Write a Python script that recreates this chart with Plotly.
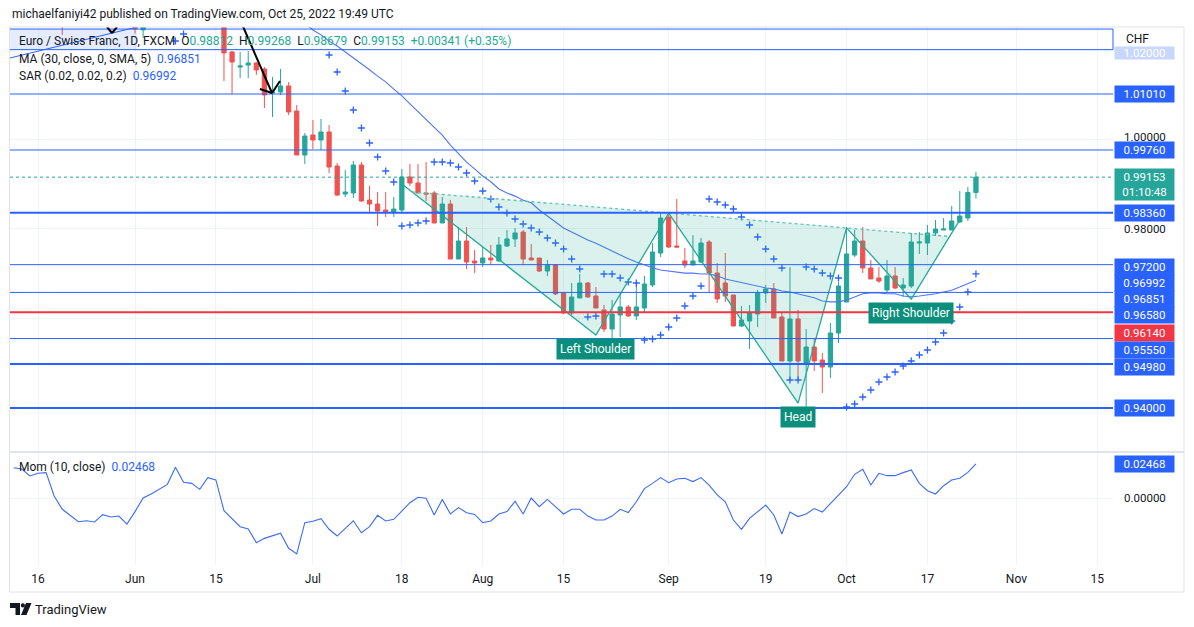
import numpy as np
import pandas as pd
import plotly.graph_objects as go
from plotly.subplots import make_subplots

# ---------------- data (EUR/CHF daily, FXCM) ----------------
start_date = "2022-05-11"
opens = [1.0445, 1.0430, 1.0399, 1.0411, 1.0443, 1.0468, 1.0339, 1.0285, 1.0291, 1.0309,
         1.0296, 1.0256, 1.0278, 1.0273, 1.0312, 1.0279, 1.0244, 1.0285, 1.0320, 1.0372,
         1.0395, 1.0479, 1.0392, 1.0379, 1.0375, 1.0426,
         1.0371, 1.01948, 1.01613, 1.01657, 1.01702, 1.01568, 1.01032, 1.01055, 1.01189, 1.0063,
         0.99648, 1.00095, 0.99983, 1.00162, 0.99402, 0.98777, 0.988, 0.99425, 0.98643, 0.98554,
         0.9842, 0.98375, 0.9842, 0.99157, 0.99023, 0.988, 0.988, 0.9813, 0.98554, 0.97326,
         0.97728, 0.97282, 0.97237, 0.97349, 0.97282, 0.97616, 0.97773, 0.97929, 0.97349, 0.97349,
         0.97058, 0.97192, 0.96567, 0.96121, 0.96455, 0.9679, 0.965, 0.96188, 0.95763, 0.96076,
         0.96255, 0.96054, 0.96232, 0.96746, 0.9746, 0.98264, 0.97616, 0.97282, 0.97192, 0.97259,
         0.97706, 0.97014, 0.9679, 0.96522, 0.9583, 0.95942, 0.96098, 0.96567, 0.96656, 0.96031,
         0.95049, 0.95987, 0.94982, 0.95361, 0.95071, 0.94915, 0.95674, 0.96366, 0.97415, 0.97728,
         0.97125, 0.96902, 0.96634, 0.96947, 0.96679, 0.96723, 0.97683, 0.97683, 0.97907, 0.97974,
         0.97974, 0.98152, 0.98241, 0.98812]
highs = [1.0462, 1.0441, 1.0420, 1.0452, 1.0478, 1.0475, 1.0348, 1.0310, 1.0318, 1.0322,
         1.0302, 1.0290, 1.0292, 1.0320, 1.0318, 1.0288, 1.0292, 1.0330, 1.0380, 1.0405,
         1.0495, 1.0490, 1.0410, 1.0398, 1.0435, 1.0440,
         1.0390, 1.0197, 1.01948, 1.0197, 1.01724, 1.01613, 1.0139, 1.01568, 1.01278, 1.00764,
         1.00139, 1.00429, 1.00452, 1.00318, 0.99469, 0.99313, 0.99514, 0.99492, 0.98956, 0.98822,
         0.98822, 0.9871, 0.99336, 0.99447, 0.99447, 0.99492, 0.98844, 0.9871, 0.98643, 0.98041,
         0.98041, 0.97527, 0.97594, 0.97639, 0.97817, 0.97974, 0.98018, 0.97974, 0.97661, 0.97349,
         0.97304, 0.97215, 0.96567, 0.9679, 0.96991, 0.96813, 0.96701, 0.96299, 0.96411, 0.96567,
         0.96299, 0.9679, 0.96947, 0.97683, 0.98353, 0.98309, 0.98666, 0.97572, 0.97862, 0.97795,
         0.9775, 0.97237, 0.9746, 0.96522, 0.96277, 0.96299, 0.96634, 0.96746, 0.9679, 0.96121,
         0.97148, 0.96188, 0.95763, 0.95562, 0.95228, 0.95897, 0.96813, 0.98041, 0.97974, 0.98041,
         0.97304, 0.97148, 0.97304, 0.97148, 0.96902, 0.97907, 0.97929, 0.98085, 0.98197, 0.98241,
         0.98509, 0.98844, 0.98934, 0.99268]
lows = [1.0418, 1.0388, 1.0390, 1.0405, 1.0436, 1.0330, 1.0233, 1.0262, 1.0280, 1.0285,
        1.0254, 1.0252, 1.0262, 1.0268, 1.0270, 1.0236, 1.0226, 1.0278, 1.0312, 1.0360,
        1.0390, 1.0380, 1.0360, 1.0350, 1.0368, 1.0360,
        1.0130, 1.0101, 1.01367, 1.01367, 1.01434, 1.00697, 1.00496, 1.00988, 1.00541, 0.99648,
        0.99447, 0.99782, 0.9976, 0.99246, 0.98733, 0.9871, 0.98688, 0.98599, 0.98353, 0.98063,
        0.98264, 0.98264, 0.98353, 0.98956, 0.988, 0.98621, 0.9813, 0.9813, 0.97326, 0.97326,
        0.97103, 0.97014, 0.97148, 0.97192, 0.97259, 0.97594, 0.97594, 0.97192, 0.97304, 0.97036,
        0.96947, 0.96522, 0.96098, 0.96076, 0.96455, 0.96455, 0.96232, 0.95696, 0.9554, 0.95585,
        0.96031, 0.95964, 0.96121, 0.96701, 0.97371, 0.97572, 0.97572, 0.97125, 0.97192, 0.97237,
        0.96589, 0.96344, 0.96366, 0.9583, 0.95808, 0.95317, 0.95808, 0.96344, 0.96009, 0.95049,
        0.94625, 0.94625, 0.94022, 0.94826, 0.94335, 0.94669, 0.95451, 0.96366, 0.97371, 0.97014,
        0.9688, 0.9679, 0.96589, 0.96656, 0.96478, 0.96679, 0.97438, 0.97415, 0.9784, 0.97974,
        0.97974, 0.9813, 0.98175, 0.98679]
closes = [1.0430, 1.0399, 1.0411, 1.0443, 1.0468, 1.0339, 1.0285, 1.0291, 1.0309, 1.0296,
          1.0256, 1.0278, 1.0273, 1.0312, 1.0279, 1.0246, 1.0285, 1.0320, 1.0372, 1.0395,
          1.0479, 1.0392, 1.0379, 1.0375, 1.0426, 1.0371,
          1.01925, 1.01724, 1.01635, 1.01702, 1.01546, 1.00988, 1.01055, 1.01189, 1.00608, 0.99648,
          1.00072, 0.99983, 1.00162, 0.9938, 0.98755, 0.98822, 0.99425, 0.98621, 0.98554, 0.98398,
          0.98375, 0.98442, 0.99157, 0.99023, 0.988, 0.98777, 0.9813, 0.98554, 0.97326, 0.97728,
          0.97259, 0.97237, 0.97349, 0.97304, 0.97639, 0.97773, 0.97907, 0.97326, 0.97304, 0.97058,
          0.97192, 0.96545, 0.96121, 0.96478, 0.9679, 0.96478, 0.96232, 0.95763, 0.96098, 0.96255,
          0.96054, 0.96255, 0.96768, 0.97482, 0.98241, 0.97594, 0.97594, 0.97192, 0.97282, 0.97683,
          0.97014, 0.96433, 0.965, 0.9583, 0.95964, 0.96121, 0.96567, 0.96656, 0.96009, 0.95049,
          0.95987, 0.95049, 0.95361, 0.95049, 0.94915, 0.95674, 0.96723, 0.97438, 0.97728, 0.97125,
          0.9688, 0.96835, 0.96947, 0.96679, 0.96746, 0.97706, 0.97706, 0.97907, 0.97996, 0.97996,
          0.98175, 0.98286, 0.98812, 0.99153]
mom10 = [0.0220, 0.0210, 0.0160, 0.0180, 0.0184, 0.0015, -0.0082, -0.0126, -0.0172, -0.0165,
         -0.0174, -0.0121, -0.0138, -0.0131, -0.0189, -0.0099, 0.0000, 0.0029, 0.0063, 0.0099,
         0.0223, 0.0114, 0.0106, 0.0063, 0.0147, 0.0131, -0.0092, -0.0148, -0.0208, -0.0225,
         -0.0324, -0.0293, -0.0273, -0.0256, -0.0365, -0.0406, -0.0179, -0.0169, -0.0150, -0.0227,
         -0.0276, -0.0220, -0.0165, -0.0252, -0.0208, -0.0126, -0.0167, -0.0155, -0.0094, -0.0034,
         0.0005, -0.0002, -0.0123, -0.0010, -0.0116, -0.0070, -0.0107, -0.0119, -0.0179, -0.0167,
         -0.0116, -0.0099, -0.0024, -0.0116, 0.0000, -0.0063, -0.0010, -0.0063, -0.0116, -0.0082,
         -0.0082, -0.0131, -0.0160, -0.0160, -0.0131, -0.0082, -0.0106, -0.0027, 0.0068, 0.0106,
         0.0148, 0.0111, 0.0138, 0.0143, 0.0119, 0.0148, 0.0094, 0.0022, -0.0027, -0.0160,
         -0.0227, -0.0148, -0.0099, -0.0051, -0.0123, -0.0261, -0.0102, -0.0135, -0.0116, -0.0077,
         -0.0102, -0.0039, 0.0022, 0.0082, 0.0172, 0.0208, 0.0094, 0.0179, 0.0162, 0.0162,
         0.0184, 0.0203, 0.0106, 0.0053, 0.0029, 0.0089, 0.0131, 0.0143, 0.0186, 0.02468]
ma30 = [None] * 36 + [
    1.0260, 1.0244, 1.0233, 1.0219, 1.0208, 1.0195, 1.0181, 1.0168, 1.0155, 1.0141,
    1.0128, 1.0112, 1.0097, 1.0079, 1.0061, 1.0043, 1.0025, 1.0009, 0.9987, 0.9967,
    0.9949, 0.9934, 0.9918, 0.9905, 0.9889, 0.9880, 0.9873, 0.9864, 0.9858, 0.9842,
    0.9829, 0.9815, 0.9802, 0.9793, 0.9784, 0.9775, 0.9768, 0.9759, 0.9750, 0.9741,
    0.9733, 0.9726, 0.9719, 0.9713, 0.9708, 0.9706, 0.9704, 0.9701, 0.9701, 0.9699,
    0.9699, 0.9695, 0.9688, 0.9684, 0.9679, 0.9675, 0.9672, 0.9668, 0.9666, 0.9661,
    0.9659, 0.9655, 0.9650, 0.9646, 0.9639, 0.9637, 0.9637, 0.9641, 0.9648, 0.9655,
    0.9657, 0.9657, 0.9655, 0.9655, 0.9650, 0.9648, 0.9650, 0.9652, 0.9655, 0.9659,
    0.9663, 0.9670, 0.9677, 0.96851]
sar = [None] * 20 + [1.02193, 1.02350] + [None] * 17 + [
    1.01881, 1.01501, 1.01077, 1.00653, 1.00251, 0.99916, 0.99603, 0.99291, 0.99045, 0.98063,
    0.98085, 0.98130, 0.98175, 0.99492, 0.99492, 0.99469, 0.99380, 0.99246, 0.99068, 0.98844,
    0.98666, 0.98487, 0.98353, 0.98219, 0.98108, 0.98018, 0.97929, 0.97795, 0.97683, 0.97549,
    0.97326, 0.97103, 0.96031, 0.96054, 0.96991, 0.96991, 0.96902, 0.96813, 0.96790, 0.95518,
    0.95540, 0.95629, 0.95808, 0.96009, 0.96277, 0.96500, 0.96723, 0.98666, 0.98599, 0.98532,
    0.98442, 0.98264, 0.98085, 0.97817, 0.97549, 0.97326, 0.97125, 0.94625, 0.94625, 0.97148,
    0.97103, 0.97014, 0.96947, 0.96902, 0.94022, 0.94089, 0.94245, 0.94401, 0.94580, 0.94692,
    0.94803, 0.94937, 0.95049, 0.95183, 0.95295, 0.95473, 0.95674, 0.95942, 0.96255, 0.96589,
    0.96992]

blue_levels = [1.0246, 1.0200, 1.0101, 0.9976, 0.9836, 0.9720, 0.9658, 0.9555, 0.9498, 0.9400]
blue_level_widths = [1, 1, 1, 1, 2, 1, 1, 1, 2, 2]
red_level = 0.9614

tick_dates = ["2022-05-16", "2022-06-01", "2022-06-15", "2022-07-01", "2022-07-18", "2022-08-01",
              "2022-08-15", "2022-09-01", "2022-09-19", "2022-10-03", "2022-10-17", "2022-11-01",
              "2022-11-15"]
tick_text = ["16", "Jun", "15", "Jul", "18", "Aug", "15", "Sep", "19", "Oct", "17", "Nov", "15"]

# inverse head & shoulders drawing: start, L-shoulder, neck, head, neck, R-shoulder, end
hs_dates = ["2022-07-18", "2022-08-19", "2022-09-01", "2022-09-23", "2022-10-03", "2022-10-13", "2022-10-21"]
hs_prices = [0.9900, 0.9563, 0.9835, 0.9411, 0.9802, 0.9643, 0.9820]
hs_labels = ["Left Shoulder", "Head", "Right Shoulder"]

# other drawings (bar position, price)
trend_pts = [(-0.46, 1.01814), (15.24, 1.02506)]
box_range = (-0.46, 15.24, 1.0200, 1.0246)
arrow_shaft = [(28.2, 1.0258), (31.94, 1.01032)]
arrow_head = [(30.45, 1.01121), (31.94, 1.01032), (32.93, 1.01300)]
arrow_tip2 = [(11.53, 1.02506), (12.15, 1.02372), (12.77, 1.02506)]

# ---------------- layout constants (page pixels; page body has an 8px margin) ----------------
OFF = 8
PAGE_W, PAGE_H = 1194, 627
W, H = PAGE_W - OFF, PAGE_H - OFF
PX_L, PX_R, PX_T, PX_B = 10, 1113, 27, 565     # plot area in page pixels
L, R, T, B = PX_L - OFF, W - (PX_R - OFF), PX_T - OFF, H - (PX_B - OFF)
pw, ph = PX_R - PX_L, PX_B - PX_T
split = (PX_B - 452) / ph

BLUE = "#2962ff"
TEAL = "#22ab94"
RED = "#f23645"
TXT = "#131722"
FONT = "Roboto, 'Noto Sans', sans-serif"


def px2x(px):
    return (px - PX_L) / pw


def px2y(py):
    return (PX_B - py) / ph


cal = pd.bdate_range(start_date, "2022-11-30")


def pos(d):
    return cal.get_loc(pd.Timestamp(d))


n = len(closes)
xb = np.arange(n)

fig = make_subplots(rows=2, cols=1, shared_xaxes=True, vertical_spacing=0,
                    row_heights=[1 - split, split])

fig.add_trace(go.Candlestick(
    x=xb, open=opens, high=highs, low=lows, close=closes,
    increasing=dict(line=dict(color="#26a69a", width=1), fillcolor="#26a69a"),
    decreasing=dict(line=dict(color="#ef5350", width=1), fillcolor="#ef5350"),
    whiskerwidth=0, hoverinfo="skip"), row=1, col=1)

fig.add_trace(go.Scatter(x=xb, y=ma30, mode="lines", line=dict(color="#4f74f7", width=1.1),
                         hoverinfo="skip"), row=1, col=1)
fig.add_trace(go.Scatter(x=xb, y=sar, mode="markers",
                         marker=dict(symbol="cross-thin", size=5, line=dict(color=BLUE, width=1.3)),
                         hoverinfo="skip"), row=1, col=1)

# head & shoulders
hx = [pos(d) for d in hs_dates]
hy = hs_prices
m = (hy[4] - hy[2]) / (hx[4] - hx[2])


def neck(xv):
    return hy[2] + m * (xv - hx[2])


def cross_neck(i, j):
    s = (hy[j] - hy[i]) / (hx[j] - hx[i])
    xv = (hy[i] - s * hx[i] - hy[2] + m * hx[2]) / (m - s)
    return xv, neck(xv)


lx, ly = cross_neck(0, 1)
rx, ry = cross_neck(5, 6)
tris = [([lx, hx[1], hx[2], lx], [ly, hy[1], hy[2], ly]),
        ([hx[2], hx[3], hx[4], hx[2]], [hy[2], hy[3], hy[4], hy[2]]),
        ([hx[4], hx[5], rx, hx[4]], [hy[4], hy[5], ry, hy[4]])]
for tx, ty in tris:
    fig.add_trace(go.Scatter(x=tx, y=ty, mode="lines", fill="toself",
                             fillcolor="rgba(34,171,148,0.17)", line=dict(width=0),
                             hoverinfo="skip"), row=1, col=1)
fig.add_trace(go.Scatter(x=hx, y=hy, mode="lines", line=dict(color=TEAL, width=1.3),
                         hoverinfo="skip"), row=1, col=1)
fig.add_trace(go.Scatter(x=[lx, rx], y=[ly, ry], mode="lines",
                         line=dict(color="#5cc4b2", width=1.3, dash="dot"), hoverinfo="skip"), row=1, col=1)

# momentum
fig.add_trace(go.Scatter(x=xb, y=mom10, mode="lines", line=dict(color="#3b6cf8", width=1.1),
                         hoverinfo="skip"), row=2, col=1)

shapes = []
shapes.append(dict(type="rect", xref="x", yref="y", x0=box_range[0], x1=box_range[1],
                   y0=box_range[2], y1=box_range[3], fillcolor="rgba(41,98,255,0.12)",
                   line=dict(width=0), layer="above"))
for lev, wd in zip(blue_levels, blue_level_widths):
    shapes.append(dict(type="line", xref="paper", yref="y", x0=0, x1=1, y0=lev, y1=lev,
                       line=dict(color=BLUE, width=wd), layer="above"))
shapes.append(dict(type="line", xref="paper", yref="y", x0=1, x1=1, y0=blue_levels[1],
                   y1=blue_levels[0], line=dict(color=BLUE, width=1), layer="above"))
shapes.append(dict(type="line", xref="paper", yref="y", x0=0, x1=1, y0=red_level, y1=red_level,
                   line=dict(color=RED, width=2), layer="above"))
shapes.append(dict(type="line", xref="paper", yref="y", x0=0, x1=1, y0=closes[-1], y1=closes[-1],
                   line=dict(color="#26a69a", width=1, dash="dot"), layer="above"))
shapes.append(dict(type="line", xref="x", yref="y", x0=trend_pts[0][0], y0=trend_pts[0][1],
                   x1=trend_pts[1][0], y1=trend_pts[1][1], line=dict(color=BLUE, width=1)))
for pts in (arrow_shaft, arrow_head, arrow_tip2):
    for (a, b), (c, d) in zip(pts[:-1], pts[1:]):
        shapes.append(dict(type="line", xref="x", yref="y", x0=a, y0=b, x1=c, y1=d,
                           line=dict(color="#000000", width=2), layer="above"))

# frame
shapes.append(dict(type="rect", xref="paper", yref="paper", x0=px2x(9.5), x1=px2x(1184),
                   y0=px2y(592), y1=px2y(27), line=dict(color="#e0e3eb", width=1)))
shapes.append(dict(type="line", xref="paper", yref="paper", x0=px2x(9.5), x1=px2x(1184),
                   y0=split, y1=split, line=dict(color="#e0e3eb", width=2)))


def P(px, py):
    return f"{px2x(px):.5f},{px2y(py):.5f}"


shapes.append(dict(type="path", xref="paper", yref="paper",
                   path=f"M {P(10,603)} L {P(20,603)} L {P(20,615)} L {P(15.5,615)} L {P(15.5,608)} L {P(10,608)} Z",
                   fillcolor="#131722", line=dict(width=0)))
shapes.append(dict(type="circle", xref="paper", yref="paper", x0=px2x(20.8), x1=px2x(25),
                   y0=px2y(607.5), y1=px2y(603.3), fillcolor="#131722", line=dict(width=0)))
shapes.append(dict(type="path", xref="paper", yref="paper",
                   path=f"M {P(26,603)} L {P(31.5,603)} L {P(26.5,615)} L {P(21,615)} Z",
                   fillcolor="#131722", line=dict(width=0)))

ann = []
ann.append(dict(xref="paper", yref="paper", x=px2x(10), y=px2y(14), xanchor="left", yanchor="middle",
                text="michaelfaniyi42 published on TradingView.com, Oct 25, 2022 19:49 UTC",
                showarrow=False, font=dict(size=12, color=TXT)))
chg = closes[-1] - closes[-2]
pct = chg / closes[-2] * 100


def tv(v):
    return f'<span style="color:{TEAL}">{v}</span>'


line1 = ("Euro / Swiss Franc, 1D, FXCM  O" + tv(f"{opens[-1]:.5f}") + "  H" + tv(f"{highs[-1]:.5f}") +
         "  L" + tv(f"{lows[-1]:.5f}") + "  C" + tv(f"{closes[-1]:.5f}") + "  " +
         tv(f"{chg:+.5f} ({pct:+.2f}%)"))
ann.append(dict(xref="paper", yref="paper", x=px2x(17), y=px2y(41), xanchor="left", yanchor="middle",
                text=line1, showarrow=False, font=dict(size=12, color=TXT)))
ann.append(dict(xref="paper", yref="paper", x=px2x(17), y=px2y(59), xanchor="left", yanchor="middle",
                text=f'MA (30, close, 0, SMA, 5)  <span style="color:{BLUE}">{ma30[-1]:.5f}</span>',
                showarrow=False, font=dict(size=12, color=TXT)))
ann.append(dict(xref="paper", yref="paper", x=px2x(17), y=px2y(76), xanchor="left", yanchor="middle",
                text=f'SAR (0.02, 0.02, 0.2)  <span style="color:{BLUE}">{sar[-1]:.5f}</span>',
                showarrow=False, font=dict(size=12, color=TXT)))
ann.append(dict(xref="paper", yref="paper", x=px2x(17), y=px2y(467), xanchor="left", yanchor="middle",
                text=f'Mom (10, close)  <span style="color:{BLUE}">{mom10[-1]:.5f}</span>',
                showarrow=False, font=dict(size=12, color=TXT)))

for k, idx in zip(hs_labels, [1, 3, 5]):
    ann.append(dict(xref="x", yref="y", x=hx[idx], y=hy[idx], yshift=-14, text=k, showarrow=False,
                    bgcolor="#0b8f7c", font=dict(size=12, color="white"), borderpad=3,
                    xanchor="center", yanchor="middle"))


def plabel(y, text, color, yshift=0, yref="y", h=14, opacity=1.0):
    ann.append(dict(xref="paper", yref=yref, x=px2x(1114), y=y, yshift=yshift, xanchor="left",
                    yanchor="middle", text=text, showarrow=False, bgcolor=color, width=57, height=h,
                    borderpad=1, align="center", opacity=opacity,
                    font=dict(size=11.5, color="white")))


plabel(1.0200, "1.02000", BLUE, -3, opacity=0.25, h=10)
plabel(1.0101, "1.01010", BLUE)
plabel(0.9976, "0.99760", BLUE)
plabel(closes[-1], f"{closes[-1]:.5f}<br>01:10:48", "#26a69a", -7, h=29)
plabel(0.9836, "0.98360", BLUE)
plabel(0.9720, "0.97200", BLUE, -2)
plabel(sar[-1], f"{sar[-1]:.5f}", BLUE, -8.7)
plabel(ma30[-1], f"{ma30[-1]:.5f}", BLUE, -18.4)
plabel(0.9658, "0.96580", BLUE, -22.6)
plabel(red_level, "0.96140", RED, -21)
plabel(0.9555, "0.95550", BLUE, -11.5)
plabel(0.9498, "0.94980", BLUE, -2.7)
plabel(0.9400, "0.94000", BLUE)
plabel(mom10[-1], f"{mom10[-1]:.5f}", BLUE, 0, yref="y2")

ann.append(dict(xref="paper", yref="y", x=px2x(1145), y=1.0, yshift=2, xanchor="center", yanchor="middle",
                text="1.00000", showarrow=False, font=dict(size=11.5, color=TXT)))
ann.append(dict(xref="paper", yref="y", x=px2x(1145), y=0.98, xanchor="center", yanchor="middle",
                text="0.98000", showarrow=False, font=dict(size=11.5, color=TXT)))
ann.append(dict(xref="paper", yref="y2", x=px2x(1145), y=0, xanchor="center", yanchor="middle",
                text="0.00000", showarrow=False, font=dict(size=11.5, color=TXT)))
ann.append(dict(xref="paper", yref="paper", x=px2x(1124), y=px2y(39), xanchor="left", yanchor="middle",
                text="CHF", showarrow=False, font=dict(size=12, color=TXT)))
ann.append(dict(xref="paper", yref="paper", x=px2x(33), y=px2y(609), xanchor="left", yanchor="middle",
                text="TradingView", showarrow=False, font=dict(size=13, color=TXT)))

fig.update_layout(width=W, height=H, autosize=False, margin=dict(l=L, r=R, t=T, b=B),
                  paper_bgcolor="white", plot_bgcolor="white", showlegend=False,
                  font=dict(family=FONT, color=TXT), boxgap=0.25,
                  shapes=shapes, annotations=ann)

tv_pos = [pos(d) for d in tick_dates]
fig.update_xaxes(range=[-0.463, 135.95], tickvals=tv_pos, ticktext=tick_text, showgrid=True,
                 gridcolor="#f0f3fa", zeroline=False, showline=False, ticks="",
                 rangeslider_visible=False, tickfont=dict(size=12, color=TXT))
fig.update_xaxes(showticklabels=False, row=1, col=1)
fig.update_xaxes(ticklabelstandoff=5, row=2, col=1)
fig.update_yaxes(range=[0.930172, 1.025058], tickvals=[0.94, 0.96, 0.98, 1.00, 1.02],
                 showticklabels=False, gridcolor="#f0f3fa", zeroline=False, row=1, col=1)
fig.update_yaxes(range=[-0.04862, 0.03338], tickvals=[0], showticklabels=False,
                 gridcolor="#f0f3fa", zeroline=False, row=2, col=1)

fig.write_html("out.html")
